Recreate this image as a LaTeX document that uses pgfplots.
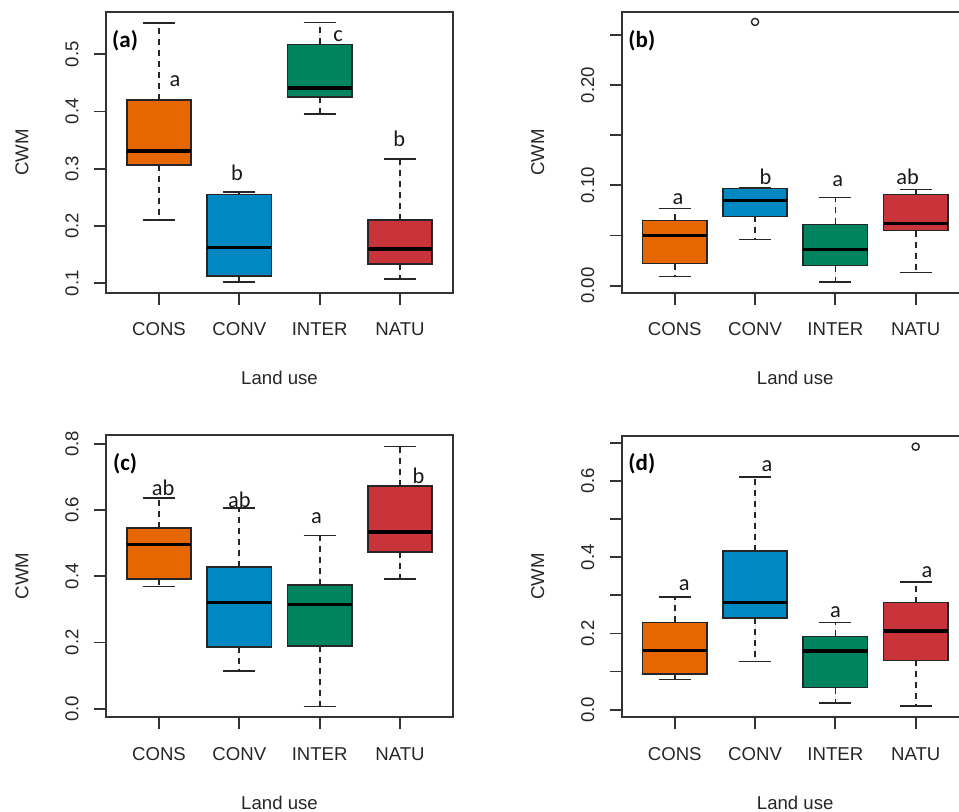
\documentclass[border=0pt]{standalone}
\usepackage{fontspec}
\setmainfont{Liberation Sans}
\newfontfamily\carl{Carlito}
\usepackage{pgfplots}
\pgfplotsset{compat=1.18}
\usepgfplotslibrary{statistics}
\definecolor{cOr}{HTML}{E66700}
\definecolor{cBl}{HTML}{0088C2}
\definecolor{cGr}{HTML}{00845F}
\definecolor{cRd}{HTML}{C8343A}
\definecolor{frm}{HTML}{333333}

\tikzset{
  ltr/.style={font=\carl\fontsize{11.2}{13}\selectfont, text=black!90, inner sep=0pt},
  plab/.style={font=\carl\bfseries\fontsize{11.5}{13}\selectfont, text=black, inner sep=0pt},
}
\pgfplotsset{
  boxplot/draw direction=y,
  boxplot/every median/.style={line width=1.7pt, draw=black},
  boxplot/every box/.style={draw=black!85, line width=0.85pt},
  boxplot/every whisker/.style={draw=black!85, line width=0.85pt},
  boxplot/draw/lower whisker/.code={%
    \draw[/pgfplots/boxplot/every whisker/.try, dash pattern=on 3pt off 2.5pt]
      (boxplot box cs:\pgfplotsboxplotvalue{lower quartile},0.5) -- (boxplot box cs:\pgfplotsboxplotvalue{lower whisker},0.5);
    \draw[/pgfplots/boxplot/every whisker/.try]
      (boxplot box cs:\pgfplotsboxplotvalue{lower whisker},0.25) -- (boxplot box cs:\pgfplotsboxplotvalue{lower whisker},0.75);
  },
  boxplot/draw/upper whisker/.code={%
    \draw[/pgfplots/boxplot/every whisker/.try, dash pattern=on 3pt off 2.5pt]
      (boxplot box cs:\pgfplotsboxplotvalue{upper quartile},0.5) -- (boxplot box cs:\pgfplotsboxplotvalue{upper whisker},0.5);
    \draw[/pgfplots/boxplot/every whisker/.try]
      (boxplot box cs:\pgfplotsboxplotvalue{upper whisker},0.25) -- (boxplot box cs:\pgfplotsboxplotvalue{upper whisker},0.75);
  },
  rpanel/.style={
    scale only axis, width=173.5pt, anchor=south west,
    xmin=0.34, xmax=4.66,
    xtick={1,2,3,4}, xticklabels={CONS,CONV,INTER,NATU},
    tick align=outside, xtick pos=left, ytick pos=left,
    major tick length=6pt, minor tick num=0,
    every tick/.style={frm, line width=0.9pt},
    axis line style={frm, line width=1pt},
    tick label style={font=\fontsize{9.3}{11}\selectfont, text=black!85},
    yticklabel style={rotate=90, anchor=south, inner sep=0pt},
    xticklabel style={anchor=north, inner sep=0pt},
    yticklabel shift=7.5pt, xticklabel shift=8.8pt,
    xlabel={Land use}, ylabel={CWM},
    label style={font=\fontsize{9.3}{11}\selectfont, text=black!85},
    xlabel style={at={(axis description cs:0.5,-0.327)}, anchor=base},
    ylabel style={at={(axis description cs:-0.242,0.5)}, anchor=center},
    clip=false,
  },
}
% draw position, lower whisker, lower quartile, median, upper quartile, upper whisker, colour
\newcommand{\bx}[7]{%
  \addplot[boxplot prepared={draw position=#1, lower whisker=#2, lower quartile=#3,
    median=#4, upper quartile=#5, upper whisker=#6, box extend=0.8}, fill=#7] coordinates {};}
\newcommand{\bxo}[8]{%
  \addplot[boxplot prepared={draw position=#1, lower whisker=#2, lower quartile=#3,
    median=#4, upper quartile=#5, upper whisker=#6, box extend=0.8}, fill=#7,
    mark=o, mark size=1.8pt, mark options={solid, draw=black!85, fill=none, line width=0.7pt}]
    table[row sep=\\, y index=0] {data\\ #8\\};}

\begin{document}
\begin{tikzpicture}
\useasboundingbox (0,0) rectangle (479.5pt,406pt);
\clip (0,0) rectangle (479.5pt,406pt);

% (a)
\begin{axis}[rpanel, at={(53pt,259.5pt)}, height=140.5pt,
  ymin=0.0831, ymax=0.5735,
  ytick={0.1,0.2,0.3,0.4,0.5}, yticklabels={0.1,0.2,0.3,0.4,0.5}]
\bx{1}{0.210}{0.307}{0.331}{0.420}{0.554}{cOr}
\bx{2}{0.102}{0.113}{0.163}{0.255}{0.259}{cBl}
\bx{3}{0.396}{0.425}{0.441}{0.517}{0.555}{cGr}
\bx{4}{0.108}{0.134}{0.160}{0.210}{0.317}{cRd}
\node[ltr] at (axis cs:1.20,0.452) {a};
\node[ltr] at (axis cs:1.97,0.292) {b};
\node[ltr] at (axis cs:3.23,0.532) {c};
\node[ltr] at (axis cs:3.99,0.352) {b};
\node[plab] at (rel axis cs:0.055,0.898) {(a)};
\end{axis}

% (b)
\begin{axis}[rpanel, at={(310.85pt,259.65pt)}, height=140.5pt,
  ymin=-0.007, ymax=0.2732,
  ytick={0,0.05,0.10,0.15,0.20,0.25}, yticklabels={0.00,,0.10,,0.20,}]
\bx{1}{0.009}{0.022}{0.050}{0.065}{0.077}{cOr}
\bxo{2}{0.046}{0.069}{0.085}{0.097}{0.098}{cBl}{0.263}
\bx{3}{0.004}{0.020}{0.036}{0.061}{0.088}{cGr}
\bx{4}{0.013}{0.055}{0.062}{0.091}{0.096}{cRd}
\node[ltr] at (axis cs:1.04,0.086) {a};
\node[ltr] at (axis cs:2.13,0.109) {b};
\node[ltr] at (axis cs:3.03,0.104) {a};
\node[ltr] at (axis cs:3.90,0.109) {ab};
\node[plab] at (rel axis cs:0.058,0.897) {(b)};
\end{axis}

% (c)
\begin{axis}[rpanel, at={(53pt,47.35pt)}, height=141.15pt,
  ymin=-0.026, ymax=0.826,
  ytick={0,0.2,0.4,0.6,0.8}, yticklabels={0.0,0.2,0.4,0.6,0.8}]
\bx{1}{0.369}{0.391}{0.496}{0.546}{0.636}{cOr}
\bx{2}{0.114}{0.186}{0.320}{0.427}{0.605}{cBl}
\bx{3}{0.007}{0.190}{0.314}{0.373}{0.523}{cGr}
\bx{4}{0.391}{0.473}{0.533}{0.672}{0.791}{cRd}
\node[ltr] at (axis cs:1.05,0.667) {ab};
\node[ltr] at (axis cs:2.00,0.631) {ab};
\node[ltr] at (axis cs:2.96,0.576) {a};
\node[ltr] at (axis cs:4.23,0.704) {b};
\node[plab] at (rel axis cs:0.055,0.900) {(c)};
\end{axis}

% (d)
\begin{axis}[rpanel, at={(310.85pt,47.35pt)}, height=140.65pt,
  ymin=-0.020, ymax=0.718,
  ytick={0,0.1,0.2,0.3,0.4,0.5,0.6,0.7}, yticklabels={0.0,,0.2,,0.4,,0.6,}]
\bx{1}{0.079}{0.093}{0.156}{0.229}{0.295}{cOr}
\bx{2}{0.126}{0.240}{0.281}{0.417}{0.611}{cBl}
\bx{3}{0.018}{0.058}{0.154}{0.192}{0.229}{cGr}
\bxo{4}{0.009}{0.129}{0.206}{0.281}{0.335}{cRd}{0.690}
\node[ltr] at (axis cs:1.12,0.327) {a};
\node[ltr] at (axis cs:2.15,0.640) {a};
\node[ltr] at (axis cs:3.00,0.256) {a};
\node[ltr] at (axis cs:4.14,0.361) {a};
\node[plab] at (rel axis cs:0.058,0.900) {(d)};
\end{axis}
\end{tikzpicture}
\end{document}
